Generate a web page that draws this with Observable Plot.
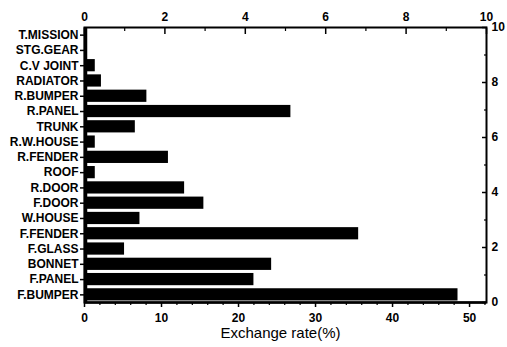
<!DOCTYPE html>
<html><head><meta charset="utf-8">
<script src="https://cdn.jsdelivr.net/npm/d3@7"></script>
<script src="https://cdn.jsdelivr.net/npm/@observablehq/plot@0.6"></script>
<style>body{margin:0;background:#fff} svg{display:block}</style>
</head><body><div id="chart"></div>
<script>
// Categories listed top to bottom, as in the picture
const categories = ["T.MISSION","STG.GEAR","C.V JOINT","RADIATOR","R.BUMPER","R.PANEL","TRUNK","R.W.HOUSE","R.FENDER","ROOF","R.DOOR","F.DOOR","W.HOUSE","F.FENDER","F.GLASS","BONNET","F.PANEL","F.BUMPER"];
const rates = [0.2, 0.2, 1.4, 2.2, 8.1, 26.8, 6.6, 1.4, 10.9, 1.4, 13.0, 15.5, 7.2, 35.6, 5.2, 24.3, 22.0, 48.5];
const bottomTicks = [0, 10, 20, 30, 40, 50];
const bottomMinor = [2, 4, 6, 8, 12, 14, 16, 18, 22, 24, 26, 28, 32, 34, 36, 38, 42, 44, 46, 48, 52];
const topTicks = [0, 2, 4, 6, 8, 10];
const topMinor = [1, 3, 5, 7, 9];
const rightTicks = [0, 2, 4, 6, 8, 10];
const rightMinor = [1, 3, 5, 7, 9];
const xMax = 52.2;
const secMax = 10;
const xLabel = "Exchange rate(%)";

const n = categories.length;
const rows = categories.map((c, i) => ({category: c, rate: rates[i], pos: n - 1 - i}));
const topK = xMax / secMax;
const rightK = n / secMax;
const catTicks = rows.map(d => d.pos + 0.5);

const ticksOnly = {fill: "none", label: null, stroke: "#000"};
const textOnly = {tickSize: 0, label: null, fill: "#000", fontWeight: "bold"};

const chart = Plot.plot({
  width: 507, height: 347,
  marginLeft: 84, marginRight: 21, marginTop: 27, marginBottom: 45,
  x: {type: "linear", domain: [0, xMax]},
  y: {type: "linear", domain: [0, n]},
  style: {fontFamily: "'Liberation Sans', Arial, sans-serif", color: "#000", background: "#fff", overflow: "visible"},
  marks: [
    Plot.rect(rows, {x1: () => 0, x2: "rate", y1: d => d.pos + 0.1, y2: d => d.pos + 0.9, fill: "#000"}),
    Plot.frame({stroke: "#000", strokeWidth: 2}),
    Plot.ruleX([0], {stroke: "#000", strokeWidth: 3.5, dx: 1}),
    Plot.ruleY([0], {stroke: "#000", strokeWidth: 2.5}),
    // left category axis
    Plot.axisY({anchor: "left", ticks: catTicks, tickSize: 4, strokeWidth: 1.5, ...ticksOnly}),
    Plot.axisY({anchor: "left", ticks: catTicks, tickPadding: 6, ...textOnly,
      tickFormat: v => categories[n - 1 - Math.floor(v)], fontSize: 12, letterSpacing: "-0.5px"}),
    // bottom axis
    Plot.axisX({anchor: "bottom", ticks: bottomTicks, tickSize: 5, strokeWidth: 1.5, ...ticksOnly}),
    Plot.axisX({anchor: "bottom", ticks: bottomMinor, tickSize: 3, strokeWidth: 1.2, ...ticksOnly}),
    Plot.axisX({anchor: "bottom", ticks: bottomTicks, tickPadding: 11, tickFormat: d => d, fontSize: 12, ...textOnly}),
    // top secondary axis (0–10)
    Plot.axisX({anchor: "top", ticks: topTicks.map(v => v * topK), tickSize: 6, dy: 6, strokeWidth: 1.5, ...ticksOnly}),
    Plot.axisX({anchor: "top", ticks: topMinor.map(v => v * topK), tickSize: 3, dy: 3, strokeWidth: 1.2, ...ticksOnly}),
    Plot.axisX({anchor: "top", ticks: topTicks.map(v => v * topK), tickPadding: 7,
      tickFormat: v => Math.round(v / topK), fontSize: 12, ...textOnly}),
    // right secondary axis (0–10)
    Plot.axisY({anchor: "right", ticks: rightTicks.map(v => v * rightK), tickSize: 5, dx: -5, strokeWidth: 1.5, ...ticksOnly}),
    Plot.axisY({anchor: "right", ticks: rightMinor.map(v => v * rightK), tickSize: 3, dx: -3, strokeWidth: 1.2, ...ticksOnly}),
    Plot.axisY({anchor: "right", ticks: rightTicks.map(v => v * rightK), tickPadding: 5,
      tickFormat: v => Math.round(v / rightK), fontSize: 12, ...textOnly}),
    Plot.text([xLabel], {frameAnchor: "bottom", dy: 35, dx: -5, fontSize: 15})
  ]
});
document.getElementById("chart").appendChild(chart);
</script>
</body></html>
